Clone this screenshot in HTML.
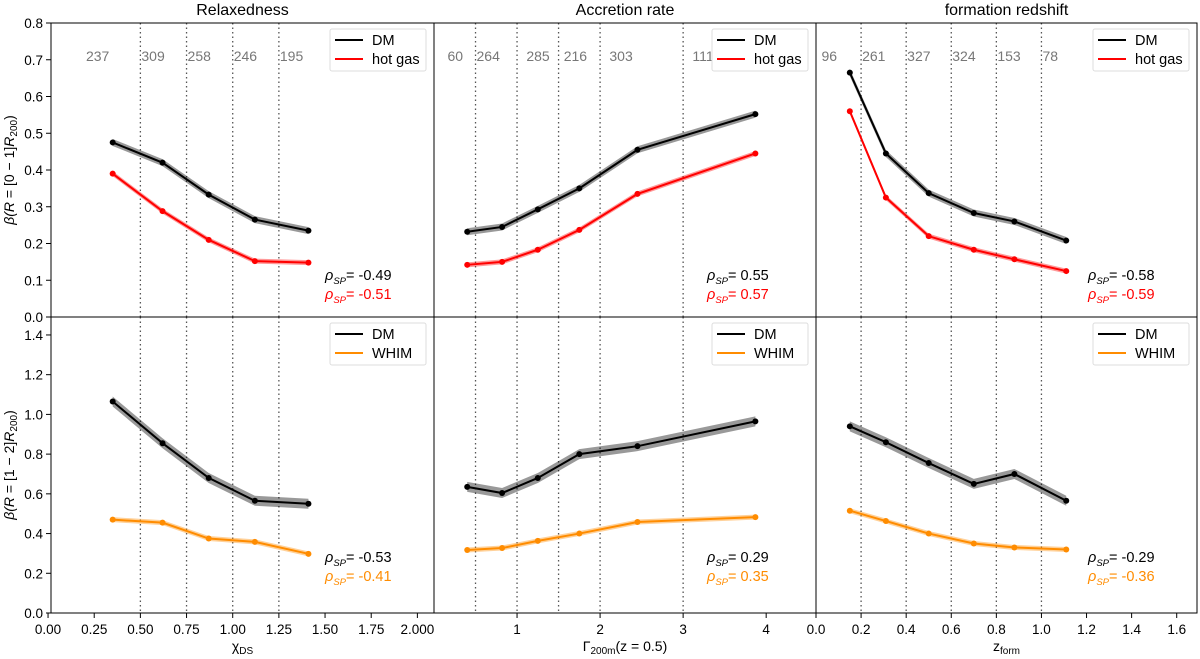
<!DOCTYPE html>
<html><head><meta charset="utf-8"><style>
body{margin:0;background:#fff}
svg{font-family:"Liberation Sans","DejaVu Sans",sans-serif}
</style></head><body>
<svg id="c" width="1200" height="654" viewBox="0 0 1200 654" xmlns="http://www.w3.org/2000/svg"></svg>
<script>
const panelTitles=["Relaxedness","Accretion rate","formation redshift"];
const x1=[0.35,0.62,0.87,1.12,1.41];
const x2=[0.4,0.82,1.25,1.75,2.45,3.87];
const x3=[0.15,0.31,0.50,0.70,0.88,1.11];
const topDM1=[0.475,0.42,0.333,0.265,0.235];
const topGas1=[0.39,0.288,0.21,0.152,0.148];
const topDM2=[0.232,0.245,0.293,0.35,0.455,0.552];
const topGas2=[0.142,0.15,0.183,0.237,0.335,0.445];
const topDM3=[0.665,0.445,0.337,0.283,0.26,0.208];
const topGas3=[0.56,0.325,0.22,0.183,0.157,0.125];
const botDM1=[1.065,0.855,0.68,0.565,0.55];
const botW1=[0.47,0.455,0.375,0.358,0.298];
const botDM2=[0.635,0.604,0.68,0.80,0.84,0.965];
const botW2=[0.317,0.327,0.363,0.40,0.458,0.483];
const botDM3=[0.94,0.86,0.755,0.65,0.70,0.565];
const botW3=[0.515,0.463,0.40,0.35,0.33,0.32];
const bins1=[0.5,0.75,1.0,1.25];
const bins2=[0.5,1,1.5,2,3];
const bins3=[0.2,0.4,0.6,0.8,1.0];
const counts1=["237","309","258","246","195"];
const counts2=["60","264","285","216","303","111"];
const counts3=["96","261","327","324","153","78"];
const countX1=[0.2,0.5,0.75,1.0,1.25];
const countX2=[0.15,0.5,1.1,1.55,2.1,3.1];
const countX3=[0.02,0.2,0.4,0.6,0.8,1.0];
const rhoTop=[["-0.49","-0.51"],["0.55","0.57"],["-0.58","-0.59"]];
const rhoBot=[["-0.53","-0.41"],["0.29","0.35"],["-0.29","-0.36"]];
const xt1=[0,0.25,0.5,0.75,1.0,1.25,1.5,1.75,2.0];
const xtl1=["0.00","0.25","0.50","0.75","1.00","1.25","1.50","1.75","2.000"];
const xt2=[1,2,3,4];const xtl2=["1","2","3","4"];
const xt3=[0,0.2,0.4,0.6,0.8,1.0,1.2,1.4,1.6];
const xtl3=["0.0","0.2","0.4","0.6","0.8","1.0","1.2","1.4","1.6"];
const yTop=[0,0.1,0.2,0.3,0.4,0.5,0.6,0.7,0.8];
const yBot=[0,0.2,0.4,0.6,0.8,1.0,1.2,1.4];

const NS="http://www.w3.org/2000/svg";
const svg=document.getElementById('c');
function el(t,a,p){const e=document.createElementNS(NS,t);for(const k in a)e.setAttribute(k,a[k]);(p||svg).appendChild(e);return e;}
const panX=[[51,434],[434,816],[816,1197]];
const doms=[[0.016,2.09],[0,4.6],[0,1.69]];
const xs=[x1,x2,x3],bins=[bins1,bins2,bins3],counts=[counts1,counts2,counts3],cX=[countX1,countX2,countX3];
const tops=[[topDM1,topGas1],[topDM2,topGas2],[topDM3,topGas3]];
const bots=[[botDM1,botW1],[botDM2,botW2],[botDM3,botW3]];
const xts=[xt1,xt2,xt3],xtls=[xtl1,xtl2,xtl3];
function xf(i){const [a,b]=panX[i],[d0,d1]=doms[i];return v=>a+(v-d0)/(d1-d0)*(b-a);}
const yT=v=>317-v*367.5, yB=v=>613-v*198.6;

for(let i=0;i<3;i++){
  const X=xf(i);
  const t=el('text',{x:(panX[i][0]+panX[i][1])/2,y:15,'text-anchor':'middle','font-size':16});
  t.textContent=panelTitles[i];
  
  
  for(const [row,Y,series,cols,names,rho,ry] of [[0,yT,tops[i],['#000','#f00'],['DM','hot gas'],rhoTop[i],280],[1,yB,bots[i],['#000','#ff8c00'],['DM','WHIM'],rhoBot[i],562]]){
    const g=el('g',{});
    
    
    const top=row?317:23,bot=row?613:317;
    bins[i].forEach(b=>{const l=el('line',{x1:X(b),x2:X(b),y1:top,y2:bot,stroke:'#555','stroke-width':1.3,'stroke-dasharray':'1.5,3'},g);
      });
    if(row===0){counts[i].forEach((c,k)=>{const tx=el('text',{x:X(cX[i][k])+1,y:61,'font-size':14,fill:'#777'},g);tx.textContent=c;
      });}
    series.forEach((s,k)=>{
      const pts=s.map((v,j)=>[X(xs[i][j]),Y(v)]);
      const w=k===0?(row?5:3.5):2.5;
      const band=el('polygon',{points:pts.map(p=>p[0]+','+(p[1]-w)).concat(pts.slice().reverse().map(p=>p[0]+','+(p[1]+w))).join(' '),fill:cols[k],opacity:0.4},g);
      
      const pl=el('polyline',{points:pts.map(p=>p.join(',')).join(' '),fill:'none',stroke:cols[k],'stroke-width':2},g);
      
      pts.forEach(p=>{const c=el('circle',{cx:p[0],cy:p[1],r:3,fill:cols[k]},g);
        });
    });
    const lx=panX[i][1]-104,ly=top+6;
    const lg=el('g',{},g);
    
    el('rect',{x:lx,y:ly,width:96,height:42,fill:'#fff',stroke:'#ddd',rx:2},lg);
    names.forEach((n,k)=>{el('line',{x1:lx+5,x2:lx+33,y1:ly+11+k*19,y2:ly+11+k*19,stroke:cols[k],'stroke-width':2},lg);
      const tx=el('text',{x:lx+42,y:ly+16+k*19,'font-size':14.5},lg);tx.textContent=n;
      });
    rho.forEach((r,k)=>{const tx=el('text',{x:panX[i][1]-109,y:ry+k*19,'font-size':14.5,fill:cols[k]},g);
      tx.innerHTML='<tspan font-style="italic">\u03c1</tspan><tspan font-size="9.5" font-style="italic" dy="4">SP</tspan><tspan dy="-4">= '+r+'</tspan>';
      });
    el('rect',{x:panX[i][0],y:top,width:panX[i][1]-panX[i][0],height:bot-top,fill:'none',stroke:'#000','stroke-width':1},g);
  }
  xts[i].forEach((v,k)=>{el('line',{x1:X(v),x2:X(v),y1:613,y2:618,stroke:'#000'});
    const tx=el('text',{x:X(v),y:634,'text-anchor':'middle','font-size':13.5});tx.textContent=xtls[i][k];
    });
  const xl=el('text',{x:(panX[i][0]+panX[i][1])/2,y:651,'text-anchor':'middle','font-size':14});
  const parts=[["\u03c7","DS"],["\u0393","200m","(z = 0.5)"],["z","form"]][i];
  xl.innerHTML=parts[0]+'<tspan font-size="10" dy="3">'+parts[1]+'</tspan>'+(parts[2]?'<tspan dy="-3">'+parts[2]+'</tspan>':'');
  
}
yTop.forEach(v=>{el('line',{x1:46,x2:51,y1:yT(v),y2:yT(v),stroke:'#000'});
  const t=el('text',{x:43,y:yT(v)+5,'text-anchor':'end','font-size':13.5});t.textContent=v.toFixed(1);
  });
yBot.forEach(v=>{el('line',{x1:46,x2:51,y1:yB(v),y2:yB(v),stroke:'#000'});
  const t=el('text',{x:43,y:yB(v)+5,'text-anchor':'end','font-size':13.5});t.textContent=v.toFixed(1);
  });
for(const [yy,lab] of [[170,'[0 \u2212 1]'],[465,'[1 \u2212 2]']]){
  const t=el('text',{x:0,y:0,'text-anchor':'middle','font-size':14,transform:'translate(14,'+yy+') rotate(-90)'});
  t.innerHTML='<tspan font-style="italic">\u03b2(R</tspan> = '+lab+'<tspan font-style="italic">R</tspan><tspan font-size="10" dy="3">200</tspan><tspan dy="-3">)</tspan>';
  
}
</script>
</body></html>
